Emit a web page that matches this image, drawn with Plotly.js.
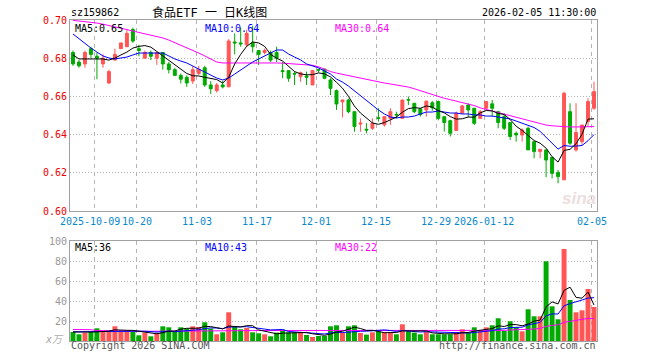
<!DOCTYPE html>
<html><head><meta charset="utf-8">
<script src="https://cdn.plot.ly/plotly-3.0.1.min.js"></script>
<style>html,body{margin:0;padding:0;background:#fff}#c{width:660px;height:360px}</style>
</head><body><div id="c"></div>
<script>
const dates = ["2025-09-25","2025-09-26","2025-09-29","2025-09-30","2025-10-09","2025-10-10","2025-10-13","2025-10-14","2025-10-15","2025-10-16","2025-10-17","2025-10-20","2025-10-21","2025-10-22","2025-10-23","2025-10-24","2025-10-27","2025-10-28","2025-10-29","2025-10-30","2025-10-31","2025-11-03","2025-11-04","2025-11-05","2025-11-06","2025-11-07","2025-11-10","2025-11-11","2025-11-12","2025-11-13","2025-11-14","2025-11-17","2025-11-18","2025-11-19","2025-11-20","2025-11-21","2025-11-24","2025-11-25","2025-11-26","2025-11-27","2025-11-28","2025-12-01","2025-12-02","2025-12-03","2025-12-04","2025-12-05","2025-12-08","2025-12-09","2025-12-10","2025-12-11","2025-12-12","2025-12-15","2025-12-16","2025-12-17","2025-12-18","2025-12-19","2025-12-22","2025-12-23","2025-12-24","2025-12-25","2025-12-26","2025-12-29","2025-12-30","2025-12-31","2026-01-05","2026-01-06","2026-01-07","2026-01-08","2026-01-09","2026-01-12","2026-01-13","2026-01-14","2026-01-15","2026-01-16","2026-01-19","2026-01-20","2026-01-21","2026-01-22","2026-01-23","2026-01-26","2026-01-27","2026-01-28","2026-01-29","2026-01-30","2026-02-02","2026-02-03","2026-02-04","2026-02-05"];

const openP = [.683,.678,.677,.685,.681,.677,.667,.679,.685,.686,
 .695,.685,.680,.683,.680,.683,.677,.674,.671,.670,
 .668,.672,.675,.666,.663,.666,.665,.6885,.688,.687,
 .688,.684,.683,.683,.683,.6735,.6735,.672,.6703,.6707,
 .666,.674,.6743,.6686,.663,.6572,.6581,.652,.6455,.6428,
 .6433,.6488,.6451,.6485,.6505,.6485,.6583,.6564,.6535,.6529,
 .6567,.6573,.6494,.6473,.6421,.6512,.6555,.6538,.6485,.6538,
 .6561,.652,.6494,.6463,.6407,.6398,.6433,.6363,.6311,.632,
 .6281,.6201,.6163,.652,.632,.6363,.6468,.6538];
const highP = [.684,.679,.684,.686,.683,.682,.674,.685,.688,.695,
 .696,.687,.684,.684,.683,.683,.678,.675,.672,.671,
 .676,.676,.676,.668,.667,.668,.690,.693,.696,.695,
 .697,.684,.685,.684,.686,.678,.6735,.673,.673,.673,
 .6738,.6745,.6745,.6695,.6636,.6583,.6588,.652,.6485,.646,
 .6485,.6538,.6494,.6538,.652,.6583,.6599,.6564,.6538,.6578,
 .6575,.6578,.6494,.6478,.652,.6555,.6564,.6538,.6529,.6575,
 .6581,.652,.6511,.6463,.6416,.6433,.6442,.6363,.6323,.632,
 .6281,.6215,.6625,.6564,.6564,.645,.659,.6677];
const lowP = [.676,.675,.675,.680,.669,.675,.6665,.679,.685,.686,
 .688,.681,.680,.679,.6765,.674,.672,.671,.6668,.665,
 .6665,.6712,.665,.6613,.662,.6642,.665,.682,.686,.686,
 .683,.6764,.682,.678,.678,.6695,.6677,.666,.6677,.666,
 .666,.6725,.669,.6607,.6529,.649,.6512,.6415,.6415,.6407,
 .6424,.6468,.6442,.6451,.6485,.6485,.6555,.6512,.6494,.6494,
 .6525,.6475,.6416,.639,.6421,.651,.649,.645,.6485,.6538,
 .6494,.6433,.6424,.6372,.6363,.6363,.632,.6276,.6276,.6177,
 .6171,.6145,.6163,.6346,.6311,.6346,.6442,.6529];
const closeP = [.677,.676,.683,.682,.680,.680,.673,.682,.688,.693,
 .689,.684,.683,.681,.683,.677,.674,.671,.669,.667,
 .674,.674,.666,.664,.666,.665,.689,.688,.6875,.693,
 .686,.682,.684,.679,.680,.673,.6695,.6717,.6724,.670,
 .6735,.6738,.6695,.6642,.656,.6581,.652,.6442,.646,.6424,
 .646,.6485,.6494,.652,.6503,.6581,.6581,.652,.6505,.6575,
 .654,.6485,.6463,.6407,.6512,.655,.6529,.6459,.652,.6573,
 .6538,.6463,.6433,.639,.6398,.6424,.632,.6311,.6323,.6267,
 .6197,.618,.6616,.6355,.6411,.645,.6573,.6625];

const ma5 = [.6817,.6796,.6796,.6796,.6796,.6796,.6790,.6800,.6817,.6832,
 .6853,.6862,.6866,.6858,.6835,.6812,.6790,.6765,.6740,.6720,
 .6708,.6707,.6700,.6694,.6688,.6670,.6700,.6770,.6820,.6862,
 .6885,.6880,.6862,.6820,.6800,.6785,.6757,.6730,.6718,.6713,
 .6714,.6723,.6718,.6702,.6674,.6643,.6600,.6549,.6513,.6485,
 .6461,.6454,.6463,.6477,.6492,.6517,.6536,.6541,.6538,.6550,
 .6544,.6525,.6514,.6494,.6481,.6483,.6492,.6491,.6514,.6526,
 .6524,.6511,.6505,.6479,.6444,.6422,.6393,.6369,.6355,.6329,
 .6284,.6256,.6317,.6323,.6352,.6402,.6481,.6483];
const ma10 = [.6927,.6901,.6874,.6853,.6832,.6812,.6801,.6796,.6801,.6806,
 .6817,.6827,.6827,.6827,.6827,.6827,.6812,.6796,.6785,.6775,
 .6759,.6743,.6728,.6712,.6696,.6686,.6696,.6717,.6738,.6759,
 .6780,.6796,.6812,.6827,.6843,.6843,.6822,.6806,.6791,.6770,
 .6759,.6749,.6733,.6717,.6691,.6675,.6654,.6628,.6602,.6581,
 .6555,.6529,.6508,.6492,.6487,.6492,.6492,.6497,.6508,.6518,
 .6518,.6524,.6518,.6513,.6513,.6508,.6508,.6503,.6503,.6497,
 .6497,.6492,.6487,.6482,.6471,.6461,.6450,.6437,.6417,.6387,
 .6353,.6324,.6343,.6339,.6340,.6343,.6368,.6400];
const ma30 = [.6998,.6995,.6990,.6987,.6984,.6978,.6972,.6966,.6959,.6950,
 .6942,.6935,.6928,.6920,.6913,.6906,.6895,.6882,.6869,.6855,
 .6841,.6827,.6812,.6795,.6780,.6775,.6775,.6775,.6776,.6777,
 .6777,.6778,.6777,.6776,.6775,.6774,.6772,.6770,.6768,.6766,
 .6763,.6755,.6742,.6730,.6722,.6715,.6708,.6702,.6695,.6688,
 .6682,.6675,.6670,.6665,.6660,.6655,.6649,.6640,.6630,.6620,
 .6608,.6597,.6590,.6583,.6576,.6568,.6560,.6552,.6540,.6532,
 .6522,.6513,.6505,.6498,.6490,.6483,.6476,.6467,.6458,.6450,
 .6446,.6443,.6441,.6440,.6440,.6440,.6441,.6442];

const volume = [9,6.7,8.4,9,12.7,9.7,9.7,14.7,9.7,9.7,
 9,5.7,8.4,4.7,8,14.7,13.7,9,13.7,12.4,
 14.7,14,18.7,12.4,6.7,8.7,28.7,14.4,11.7,13,
 8.7,7.7,6.7,4.7,8.4,11.4,8.7,8.7,8.4,6,
 4,5,5,14.7,15.7,8.4,14.7,15.7,8,6.4,
 8.7,9.7,8.7,8.7,6.7,16.7,9.7,8.4,6.7,9,
 6.7,6.7,6.7,6.7,9,11.7,8.4,13.7,10.4,13.7,
 15.7,22.7,10,19.7,13.7,9.7,31.7,24.7,24.7,79.7,
 34.7,21.7,92,41,28.7,30.7,52,34];
const vma5 = [9,8.8,8.9,9,9.2,9.3,9.9,11.2,11.3,10.7,
 10.6,9.8,8.5,7.5,7.2,8.3,9.9,10,11.8,12.7,
 12.7,12.8,14.7,14.4,13.3,12.1,15,14.2,14,15.3,
 15.3,11.1,9.6,8.2,7.2,7.8,8,8.4,9.1,8.6,
 7.2,6.4,5.7,6.9,8.9,9.8,11.7,13.8,12.5,10.6,
 10.7,9.7,8.3,8.4,8.5,10.1,10.1,10,9.6,10.1,
 8.1,7.5,7.2,7.2,7.2,8.2,8.5,9.9,10.6,11.6,
 12.4,15.2,14.5,16.4,16.4,15.2,17,19.9,20.9,34.1,
 39.1,37.1,50.6,53.8,43.6,42.8,48.9,36];
const vma10 = [9.2,9.3,9.5,9.7,9.8,9.9,10,10,10,9.9,
 9.9,9.8,9.8,9.4,8.9,9.4,9.8,9.3,9.7,9.9,
 10.5,11.3,12.4,13.1,13,12.4,13.9,14.4,14.2,14.3,
 13.7,13.1,11.9,11.1,11.3,11.5,9.5,9,8.6,7.9,
 7.5,7.2,7,8,8.8,8.5,9.1,9.8,9.7,9.8,
 10.2,10.7,11.1,10.5,9.6,10.4,9.9,9.2,9,9.3,
 9.1,8.8,8.6,8.4,8.6,8.1,8,8.5,8.9,9.4,
 10.3,11.9,12.2,13.5,14,13.8,16.1,17.2,18.6,25.2,
 27.1,27,35.2,37.4,38.9,41,43,43.3];
const vma30 = [11.5,11.5,11.5,11.3,10.5,10.3,10.2,10.1,10,10,
 10,9.8,9.7,9.7,9.7,9.7,9.7,9.7,9.8,9.9,
 10,10.2,10.3,10.3,10.3,10.3,10.4,10.4,10.4,10.4,
 10.4,10.5,10.5,10.5,10.5,10.5,10.5,10.4,10.4,10.3,
 10.2,10.1,10,10,10,10,10,10,10,10,
 10,10,10,10,10,10,10,10,10,10,
 10,10.1,10.2,10.3,10.3,10.3,10.3,10.3,10.2,10.1,
 9.9,10.3,10.6,11,11.2,11.3,11.4,12,12.6,14.6,
 15.6,16.2,18.7,19.7,20.4,21.2,22.6,22.4];

const axisDates = ["2025-10-09","2025-10-20","2025-11-03","2025-11-17","2025-12-01","2025-12-15","2025-12-29","2026-01-12","2026-02-05"];
const axisLabels = ["2025-10-09","10-20","11-03","11-17","12-01","12-15","12-29","2026-01-12","02-05"];
const priceTicks = [0.60,0.62,0.64,0.66,0.68,0.70];
const volTicks = [20,40,60,80,100];
const titleCode = "sz159862";
const titleName = "食品ETF 一 日K线图";
const stamp = "2026-02-05 11:30:00";

const UP = "#ff5555", DOWN = "#00aa00";
const MONO = "DejaVu Sans Mono, Noto Sans CJK SC, monospace";
const idx = dates.map((d,i)=>i);
const gridShift = -0.35;
const tickPos = axisDates.map(d => dates.indexOf(d) + gridShift);
const volColors = closeP.map((c,i)=> c >= openP[i] ? UP : DOWN);

const L=70, R=597, T=20, B=341, W=R-L, H=B-T;
const px = x => (x-L)/W, py = y => (B-y)/H;
const slot = W / dates.length;
const tickPx = tickPos.map(t => L + (t + 0.5) * slot);

const lineTr = (y, color, xa, ya) => ({type:'scatter', mode:'lines', x:idx, y:y, xaxis:xa, yaxis:ya,
  line:{color:color, width:1}, hoverinfo:'skip', showlegend:false});

const traces = [
  {type:'candlestick', x:idx, open:openP, high:highP, low:lowP, close:closeP, xaxis:'x', yaxis:'y',
   increasing:{line:{color:UP,width:1}, fillcolor:UP}, decreasing:{line:{color:DOWN,width:1}, fillcolor:DOWN},
   whiskerwidth:0, hoverinfo:'skip', showlegend:false},
  lineTr(ma30,'#ff00ff','x','y'), lineTr(ma10,'#0000ff','x','y'), lineTr(ma5,'#000000','x','y'),
  {type:'bar', x:idx, y:volume, xaxis:'x2', yaxis:'y2', width:0.83, marker:{color:volColors, line:{width:0}},
   hoverinfo:'skip', showlegend:false},
  lineTr(vma30,'#ff00ff','x2','y2'), lineTr(vma10,'#0000ff','x2','y2'), lineTr(vma5,'#000000','x2','y2')
];

const gridV = {showgrid:true, gridcolor:'#b4b4b4', gridwidth:1, griddash:'4px,4px'};
const frame = {showline:true, mirror:true, linecolor:'#a0a0a0', linewidth:1, zeroline:false, ticks:''};
const last = a => a[a.length-1];

const ann = (text, x, y, xanchor, color, size, extra) => Object.assign({text:text, x:px(x), y:py(y), xref:'paper', yref:'paper',
  xanchor:xanchor, yanchor:'middle', showarrow:false, borderpad:0, font:{family:MONO, size:size, color:color}}, extra||{});

// date labels under the price panel (the first one sits just left of the second, as in the original)
const dateAnns = axisLabels.map((t,i) => i === 0
  ? ann(t, tickPx[1] - 15.5, 221, 'right', '#0a88cc', 10)
  : ann(t, tickPx[i], 221, 'center', '#0a88cc', 10));

const layout = {
  width:660, height:360, margin:{l:L, r:660-R, t:T, b:360-B},
  paper_bgcolor:'#fff', plot_bgcolor:'#fff', showlegend:false, hovermode:false,
  boxgap:0.3,
  xaxis: Object.assign({anchor:'y', range:[-0.5, dates.length-0.5], tickmode:'array', tickvals:tickPos,
    showticklabels:false, rangeslider:{visible:false}}, gridV, frame),
  xaxis2: Object.assign({anchor:'y2', matches:'x', range:[-0.5, dates.length-0.5], tickmode:'array', tickvals:tickPos,
    showticklabels:false}, gridV, frame),
  yaxis: Object.assign({domain:[py(211), 1], range:[0.60,0.70], tickmode:'array', tickvals:priceTicks,
    ticktext:priceTicks.map(v=>v.toFixed(2)), tickfont:{family:MONO, size:10, color:'#ee0000'},
    showgrid:true, gridcolor:'#b4b4b4', griddash:'1px,2px'}, frame),
  yaxis2: Object.assign({domain:[0, py(241)], range:[0,100], tickmode:'array', tickvals:volTicks,
    ticktext:volTicks.map(String), tickfont:{family:MONO, size:10, color:'#999999'},
    showgrid:true, gridcolor:'#b4b4b4', griddash:'1px,2px'}, frame),
  annotations: dateAnns.concat([
    ann(titleCode, 70, 12, 'left', '#000', 10),
    ann(titleName, 209, 12, 'center', '#000', 12),
    ann(stamp, 597, 12, 'right', '#000', 10),
    ann('MA5:' + last(ma5).toFixed(2), 74, 28, 'left', '#000', 10),
    ann('MA10:' + last(ma10).toFixed(2), 204, 28, 'left', '#0000ff', 10),
    ann('MA30:' + last(ma30).toFixed(2), 334, 28, 'left', '#ff00ff', 10),
    ann('MA5:' + Math.round(last(vma5)), 74, 247, 'left', '#000', 10),
    ann('MA10:' + Math.round(last(vma10)), 204, 247, 'left', '#0000ff', 10),
    ann('MA30:' + Math.round(last(vma30)), 334, 247, 'left', '#ff00ff', 10),
    ann('Copyright 2026 SINA.COM', 70, 346, 'left', '#555', 10),
    ann('http://finance.sina.com.cn', 597, 346, 'right', '#555', 10),
    ann('<i>x万</i>', 65, 339, 'right', '#aaaaaa', 10),
    ann('<b><i>sina</i></b>', 597, 198, 'right', '#ecdede', 17, {font:{family:'Liberation Sans, Arial', size:17, color:'#ecdede'}})
  ])
};

Plotly.newPlot('c', traces, layout, {staticPlot:true, displayModeBar:false});
</script></body></html>
